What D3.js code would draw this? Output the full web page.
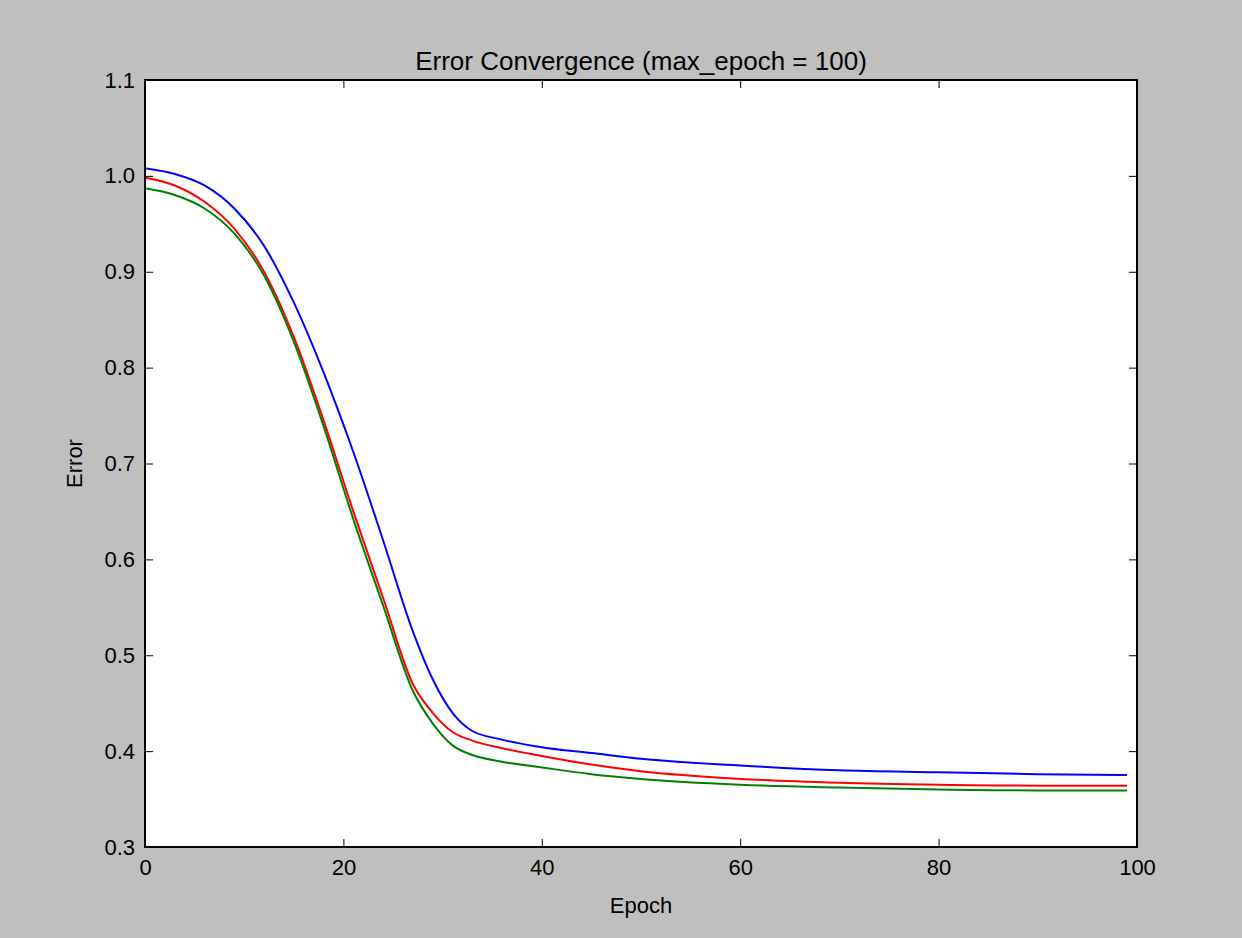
<!DOCTYPE html>
<html><head><meta charset="utf-8">
<script src="https://cdn.jsdelivr.net/npm/d3@7"></script>
<style>body{margin:0;background:#bfbfbf}svg{display:block;font-family:"Liberation Sans",Arial,sans-serif}</style>
</head><body><div id="chart"></div>
<script>
// values at selected epochs
var epochs = [0, 3, 6, 9, 12, 15, 18, 21, 24, 27, 29, 31, 33, 36, 40, 45, 50, 60, 70, 80, 90, 99];
var blueErr  = [1.008, 1.002, 0.990, 0.966, 0.927, 0.868, 0.795, 0.712, 0.620, 0.525, 0.475, 0.440, 0.421, 0.412, 0.404, 0.398, 0.392, 0.385, 0.380, 0.378, 0.376, 0.375];
var redErr   = [0.998, 0.990, 0.973, 0.945, 0.900, 0.832, 0.745, 0.650, 0.560, 0.470, 0.440, 0.420, 0.411, 0.403, 0.395, 0.386, 0.379, 0.371, 0.367, 0.365, 0.364, 0.364];
var greenErr = [0.987, 0.980, 0.966, 0.940, 0.896, 0.827, 0.739, 0.642, 0.552, 0.463, 0.429, 0.406, 0.396, 0.389, 0.383, 0.376, 0.371, 0.365, 0.362, 0.360, 0.359, 0.359];
var seriesColors = ["#0000ff", "#ff0000", "#008000"];
var xTicks = [0, 20, 40, 60, 80, 100];
var yTicks = [0.3, 0.4, 0.5, 0.6, 0.7, 0.8, 0.9, 1.0, 1.1];

var W = 1242, H = 938;
var m = {left: 145, right: 105, top: 80, bottom: 91};

var svg = d3.select("#chart").append("svg").attr("width", W).attr("height", H);
var x = d3.scaleLinear().domain([0, 100]).range([m.left, W - m.right]);
var y = d3.scaleLinear().domain([0.3, 1.1]).range([H - m.bottom, m.top]);

svg.append("rect").attr("x", m.left).attr("y", m.top)
   .attr("width", W - m.left - m.right).attr("height", H - m.top - m.bottom)
   .attr("fill", "white");

var line = d3.line().x(function(d){ return x(d[0]); }).y(function(d){ return y(d[1]); })
             .curve(d3.curveMonotoneX);
[blueErr, redErr, greenErr].forEach(function(vals, i){
  svg.append("path").datum(epochs.map(function(e, j){ return [e, vals[j]]; }))
     .attr("fill", "none").attr("stroke", seriesColors[i]).attr("stroke-width", 2)
     .attr("d", line);
});

function styleAxis(g){
  g.select(".domain").remove();
  g.selectAll("line").attr("stroke", "black").attr("stroke-width", 1);
  g.selectAll("text").attr("font-size", 22).attr("fill", "black");
}
svg.append("g").attr("transform", "translate(0," + (H - m.bottom) + ")")
   .call(d3.axisBottom(x).tickValues(xTicks).tickSize(-8).tickPadding(12)).call(styleAxis);
svg.append("g").attr("transform", "translate(0," + m.top + ")")
   .call(d3.axisTop(x).tickValues(xTicks).tickSize(-8).tickFormat("")).call(styleAxis);
svg.append("g").attr("transform", "translate(" + m.left + ",0)")
   .call(d3.axisLeft(y).tickValues(yTicks).tickSize(-8).tickPadding(10).tickFormat(d3.format(".1f"))).call(styleAxis);
svg.append("g").attr("transform", "translate(" + (W - m.right) + ",0)")
   .call(d3.axisRight(y).tickValues(yTicks).tickSize(-8).tickFormat("")).call(styleAxis);

svg.append("rect").attr("x", m.left).attr("y", m.top)
   .attr("width", W - m.left - m.right).attr("height", H - m.top - m.bottom)
   .attr("fill", "none").attr("stroke", "black").attr("stroke-width", 2);

svg.append("text").attr("x", (m.left + W - m.right) / 2).attr("y", 70)
   .attr("text-anchor", "middle").attr("font-size", 26).text("Error Convergence (max_epoch = 100)");
svg.append("text").attr("x", (m.left + W - m.right) / 2).attr("y", 913)
   .attr("text-anchor", "middle").attr("font-size", 22).text("Epoch");
svg.append("text").attr("transform", "translate(82," + ((m.top + H - m.bottom) / 2) + ") rotate(-90)")
   .attr("text-anchor", "middle").attr("font-size", 22).text("Error");
</script></body></html>
